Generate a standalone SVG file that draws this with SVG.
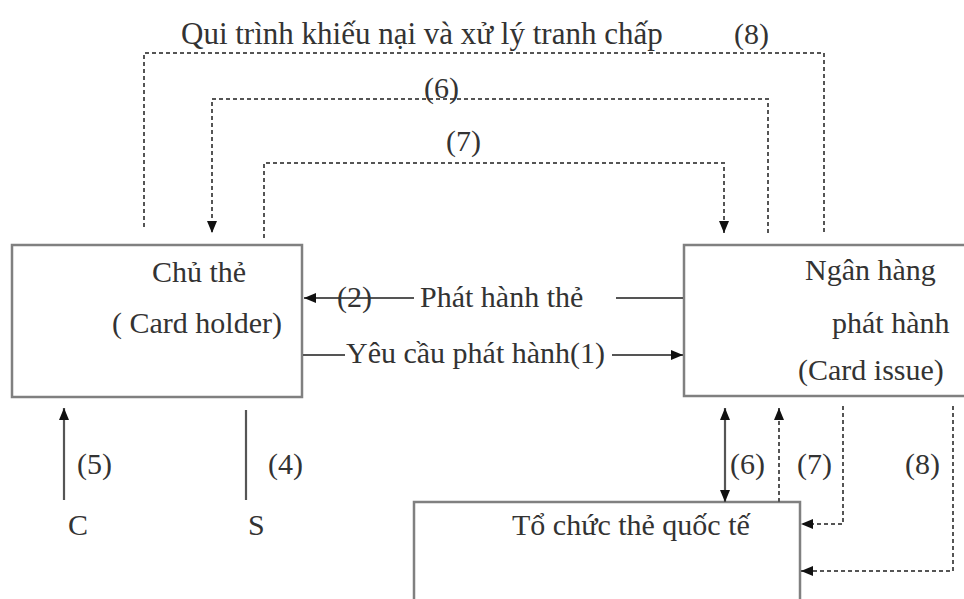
<svg xmlns="http://www.w3.org/2000/svg" width="964" height="599" viewBox="0 0 964 599">
<style>
.box{fill:#fff;stroke:#808080;stroke-width:2.5}
.t{font-family:'Liberation Serif','Times New Roman','DejaVu Serif',serif;font-size:30px;fill:#333}
.ln{fill:none;stroke:#555;stroke-width:2.2}
.ds{fill:none;stroke:#555;stroke-width:2;stroke-dasharray:4 3}
</style>
<defs>
<marker id="ah" viewBox="0 0 12 10" refX="12" refY="5" markerWidth="12" markerHeight="10" markerUnits="userSpaceOnUse" orient="auto-start-reverse">
<path d="M0,0 L12,5 L0,10 z" fill="#111"/>
</marker>
</defs>
<rect width="964" height="599" fill="#fff"/>
<g id="chu-the">
<rect class="box" x="12" y="245" width="290" height="152"/>
<text class="t" x="152" y="282">Chủ thẻ</text>
<text class="t" x="112" y="333">( Card holder)</text>
</g>
<g id="ngan-hang">
<rect class="box" x="684" y="245" width="290" height="151"/>
<text class="t" x="805" y="280">Ngân hàng</text>
<text class="t" x="832" y="333">phát hành</text>
<text class="t" x="798" y="380">(Card issue)</text>
</g>
<g id="to-chuc">
<rect class="box" x="414" y="502" width="386" height="110"/>
<text class="t" x="512" y="535">Tổ chức thẻ quốc tế</text>
</g>
<g id="connectors">
<polyline class="ds" points="144,227 144,53 824,53 824,233"/>
<polyline class="ds" points="768,233 768,99 212,99 212,233" marker-end="url(#ah)"/>
<polyline class="ds" points="264,238 264,163 724,163 724,233" marker-end="url(#ah)"/>
<line class="ln" x1="683" y1="298" x2="616" y2="298"/>
<line class="ln" x1="414" y1="298" x2="304" y2="298" marker-end="url(#ah)"/>
<line class="ln" x1="303" y1="355" x2="345" y2="355"/>
<line class="ln" x1="612" y1="355" x2="683" y2="355" marker-end="url(#ah)"/>
<line class="ln" x1="64" y1="500" x2="64" y2="408" marker-end="url(#ah)"/>
<line class="ln" x1="246" y1="410" x2="246" y2="500"/>
<line class="ln" x1="725" y1="408" x2="725" y2="502" marker-start="url(#ah)" marker-end="url(#ah)"/>
<line class="ds" x1="779" y1="502" x2="779" y2="408" marker-end="url(#ah)"/>
<polyline class="ds" points="843,406 843,524 801,524" marker-end="url(#ah)"/>
<polyline class="ds" points="953,406 953,571 801,571" marker-end="url(#ah)"/>
</g>
<g id="labels">
<text class="t" x="181" y="44" style="font-size:31px">Qui trình khiếu nại và xử lý tranh chấp</text>
<text class="t" x="734" y="44">(8)</text>
<text class="t" x="424" y="98">(6)</text>
<text class="t" x="446" y="151">(7)</text>
<text class="t" x="337" y="307">(2)</text>
<text class="t" x="420" y="307">Phát hành thẻ</text>
<text class="t" x="346" y="363">Yêu cầu phát hành(1)</text>
<text class="t" x="77" y="474">(5)</text>
<text class="t" x="268" y="474">(4)</text>
<text class="t" x="68" y="535">C</text>
<text class="t" x="248" y="535">S</text>
<text class="t" x="730" y="474">(6)</text>
<text class="t" x="797" y="474">(7)</text>
<text class="t" x="905" y="474">(8)</text>
</g>
</svg>
